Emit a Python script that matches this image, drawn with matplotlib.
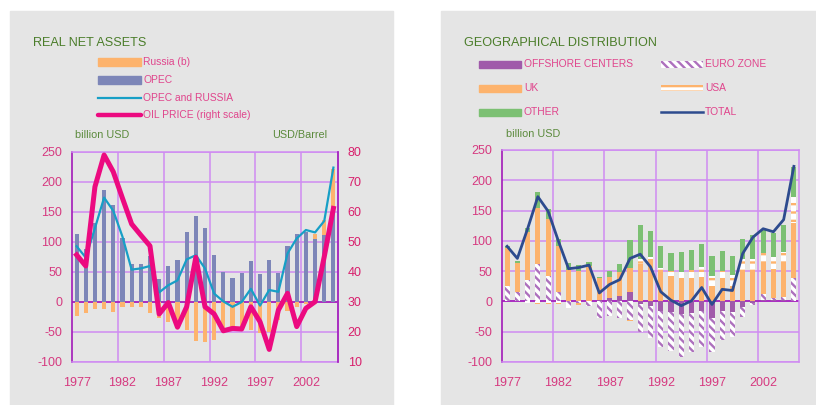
import numpy as np
import matplotlib
matplotlib.use('Agg')
import matplotlib.pyplot as plt
from matplotlib.patches import Rectangle
from matplotlib.lines import Line2D

plt.rcParams['font.family'] = ['Liberation Sans', 'DejaVu Sans']
plt.rcParams['hatch.linewidth'] = 1.7
plt.rcParams['axes.unicode_minus'] = False

years = list(range(1977, 2006))
tick_years = [1977, 1982, 1987, 1992, 1997, 2002]

# left panel: real net assets (billion USD) and oil price (USD/barrel)
opec = [114, 88, 131, 187, 162, 106, 63, 64, 76, 39, 60, 70, 116, 143, 123,
        78, 50, 40, 48, 68, 47, 70, 49, 93, 113, 116, 105, 112, 150]
russia = [-23, -19, -12, -12, -16, -9, -9, -9, -18, -26, -33, -40, -47, -65, -66,
          -63, -48, -41, -41, -47, -52, -50, -30, -15, -9, -3, 9, 25, 72]
opec_russia = [93, 74, 123, 174, 152, 109, 54, 56, 60, 16, 28, 36, 71, 78, 56,
               14, 1, -8, 0, 22, -6, 20, 17, 81, 106, 120, 116, 135, 224]
oil_price = [45.7, 42, 68.4, 79, 73.4, 64.6, 56, 52.3, 48.7, 26, 29.8, 21.6, 28.4,
             44.9, 28.4, 26, 20.4, 21.2, 21, 28.4, 23.4, 14.2, 27.3, 32.9, 21.8,
             27.9, 30.1, 45.1, 61.2]

# right panel: geographical distribution (billion USD)
offshore = [0, 0, 0, 0, 0, 0, 0, 0, 0, 3, 5, 9, 15, -4, -8, -15, -18, -21, -19,
            -16, -27, -15, -18, -9, -3, 2, 2, 2, 0]
euro_zone = [25, 15, 36, 61, 42, 15, -8, -3, -7, -27, -24, -27, -30, -47, -53,
             -61, -64, -70, -65, -59, -56, -48, -40, -16, -3, 11, 3, 6, 39]
uk = [63, 49, 78, 94, 94, 76, 52, 51, 58, 35, 36, 40, 41, 61, 70, 48, 42, 37, 39,
      41, 26, 35, 26, 52, 52, 50, 49, 57, 90]
usa = [0, 0, -2, -5, -5, -5, -3, -3, 0, 0, 0, 0, -3, 9, 3, 7, 8, 12, 13, 16, 16,
       16, 18, 18, 18, 17, 19, 16, 44]
other = [3, 2, 8, 25, 16, 12, 11, 9, 7, 2, 10, 13, 45, 57, 43, 36, 30, 32, 33, 37,
         33, 33, 31, 33, 39, 38, 40, 45, 49]
total = [91, 71, 120, 173, 149, 100, 54, 56, 60, 14, 28, 36, 71, 78, 57, 16, 2, -7,
         1, 23, -5, 20, 18, 79, 106, 120, 115, 135, 223]

GRAY = '#e5e5e5'
GRID = '#cf8cf2'
DARK = '#a21bb8'
TICK = '#d63a80'
TITLE = '#4b7d2a'
LEG = '#e0458c'
OPEC_C = '#7d86b8'
ORANGE = '#fdb36d'
CYAN = '#179fc6'
MAGENTA = '#ec0a80'
PURPLE = '#a05aaa'
HATCH_P = '#ad70bd'
GREEN = '#7cc073'
NAVY = '#2d4b8e'

W, H = 816, 405
fig = plt.figure(figsize=(W / 100, H / 100), dpi=100)


def fx(px):
    return px / W


def fy(py):
    return 1 - py / H


def box(x0, y0, x1, y1, **kw):
    fig.add_artist(Rectangle((fx(x0), fy(y1)), fx(x1) - fx(x0), fy(y0) - fy(y1),
                             transform=fig.transFigure, **kw))


def hline(x0, x1, y, **kw):
    fig.add_artist(Line2D([fx(x0), fx(x1)], [fy(y), fy(y)],
                          transform=fig.transFigure, **kw))


# gray panels
box(10, 11, 393, 405, color=GRAY, zorder=0)
box(441, 11, 816, 405, color=GRAY, zorder=0)


def style_axes(ax):
    ax.set_facecolor('none')
    ax.set_xlim(1976.5, 2005.5)
    ax.set_ylim(-100, 250)
    ax.set_yticks(range(-100, 251, 50))
    ax.set_xticks(tick_years)
    ax.set_xticks([1981.5, 1986.5, 1991.5, 1996.5, 2001.5], minor=True)
    ax.grid(axis='y', color=GRID, lw=1.1)
    ax.grid(axis='x', which='minor', color=GRID, lw=1.1)
    ax.set_axisbelow(True)
    ax.tick_params(which='both', length=0, labelsize=9, labelcolor=TICK)
    ax.tick_params(axis='x', pad=11)
    ax.tick_params(axis='y', pad=7)
    for s in ['top', 'bottom', 'right']:
        ax.spines[s].set_color(GRID)
        ax.spines[s].set_linewidth(1.1)
    ax.spines['left'].set_color(DARK)
    ax.spines['left'].set_linewidth(1.2)
    ax.axhline(0, color=DARK, lw=1.2, zorder=1.5)


# ---------------- left: real net assets ----------------
ax1 = fig.add_axes([fx(72), fy(362), fx(338) - fx(72), fy(152) - fy(362)])
style_axes(ax1)
ax1.bar(years, opec, width=0.45, color=OPEC_C, zorder=2)
r = np.array(russia, float)
ax1.bar(years, r, width=0.45, bottom=np.where(r > 0, opec, 0), color=ORANGE, zorder=2)
ax1.plot(years, opec_russia, color=CYAN, lw=1.6, zorder=3)

ax1b = ax1.twinx()
ax1b.set_ylim(10, 80)
ax1b.set_yticks(range(10, 81, 10))
ax1b.tick_params(length=0, labelsize=9, labelcolor='#d81f6c', pad=7)
ax1b.plot(years, oil_price, color=MAGENTA, lw=3.6, zorder=4)
for s in ['top', 'bottom', 'left']:
    ax1b.spines[s].set_visible(False)
ax1b.spines['right'].set_color(DARK)
ax1b.spines['right'].set_linewidth(1.2)

fig.text(fx(33), fy(43), 'REAL NET ASSETS', fontsize=9.1, color=TITLE, va='center')
box(98, 58.5, 141, 65.5, color=ORANGE)
box(98, 76, 141, 84, color=OPEC_C)
hline(98, 141, 98, color=CYAN, lw=1.6)
hline(98, 141, 115, color=MAGENTA, lw=3.2, solid_capstyle='round')
for y, txt in [(62, 'Russia (b)'), (80, 'OPEC'), (98, 'OPEC and RUSSIA'),
               (115, 'OIL PRICE (right scale)')]:
    fig.text(fx(143), fy(y), txt, fontsize=7.4, color=LEG, va='center')
fig.text(fx(75), fy(135), 'billion USD', fontsize=7.8, color='#5b8a3c', va='center')
fig.text(fx(272), fy(135), 'USD/Barrel', fontsize=7.8, color='#5b8a3c', va='center')

# ---------------- right: geographical distribution ----------------
ax2 = fig.add_axes([fx(502), fy(362), fx(799) - fx(502), fy(150) - fy(362)])
style_axes(ax2)

components = [
    (offshore, dict(facecolor=PURPLE, edgecolor=PURPLE, lw=0)),
    (euro_zone, dict(facecolor='white', edgecolor=HATCH_P, hatch='\\\\\\\\', lw=0)),
    (uk, dict(facecolor=ORANGE, edgecolor=ORANGE, lw=0)),
    (usa, dict(facecolor='white', edgecolor=ORANGE, hatch='--', lw=0)),
    (other, dict(facecolor=GREEN, edgecolor=GREEN, lw=0)),
]
pos = np.zeros(len(years))
neg = np.zeros(len(years))
for vals, kw in components:
    v = np.array(vals, float)
    ax2.bar(years, v, width=0.5, bottom=np.where(v >= 0, pos, neg), zorder=2, **kw)
    pos += np.clip(v, 0, None)
    neg += np.clip(v, None, 0)
ax2.plot(years, total, color=NAVY, lw=2.0, zorder=4)

fig.text(fx(464), fy(43), 'GEOGRAPHICAL DISTRIBUTION', fontsize=9.1, color=TITLE, va='center')
box(479, 60.5, 521, 67.5, color=PURPLE)
box(479, 84.5, 521, 91.5, color=ORANGE)
box(479, 108.5, 521, 115.5, color=GREEN)
box(661, 60.5, 703, 67.5, facecolor='white', edgecolor=HATCH_P, hatch='\\\\\\\\', lw=0)
box(661, 85, 703, 91, facecolor='white', edgecolor=ORANGE, hatch='---', lw=0)
hline(661, 703, 112, color=NAVY, lw=1.8)
for x, y, txt in [(524, 64, 'OFFSHORE CENTERS'), (524, 88, 'UK'), (524, 112, 'OTHER'),
                  (705, 64, 'EURO ZONE'), (705, 88, 'USA'), (705, 112, 'TOTAL')]:
    fig.text(fx(x), fy(y), txt, fontsize=7.4, color=LEG, va='center')
fig.text(fx(506), fy(134), 'billion USD', fontsize=7.8, color='#5b8a3c', va='center')

fig.savefig('out.png', dpi=100, facecolor='white')
